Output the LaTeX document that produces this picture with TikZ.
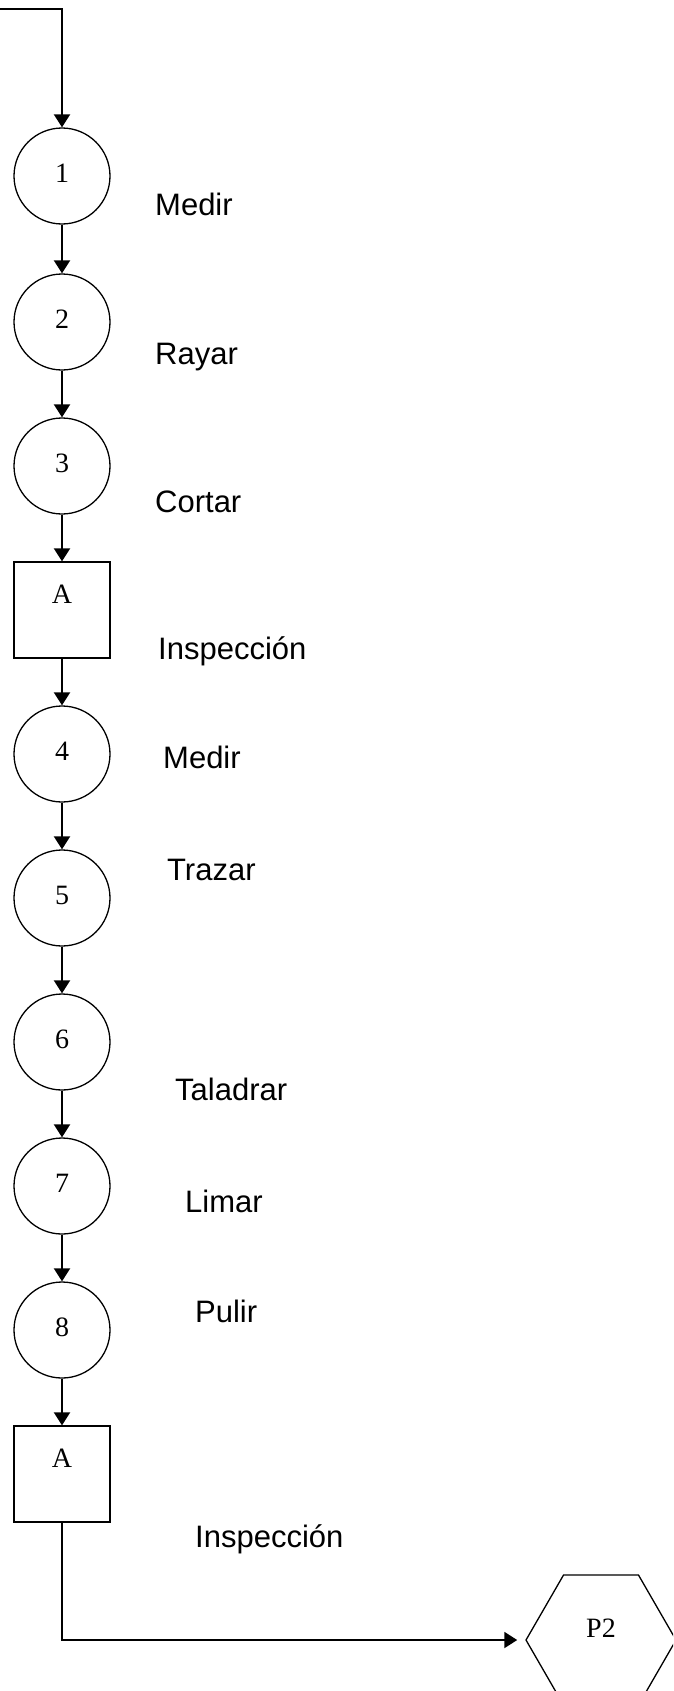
\documentclass[tikz,border=0pt]{standalone}
\usepackage{fontspec}
\setmainfont{Liberation Serif}
\setsansfont{Liberation Sans}
\usetikzlibrary{arrows.meta,shapes.geometric}

\begin{document}
\begin{tikzpicture}[x=1pt, y=-1pt]
    \clip (0,0) rectangle (673,1691);
    \useasboundingbox (0,0) rectangle (673,1691);
    \begin{scope}
        \tikzstyle{every node}=[fill=white, draw=black, line width=1.3pt, text=black, inner sep=0pt, font=\fontsize{28pt}{30pt}\selectfont]
        \tikzstyle{op}=[circle, minimum size=96pt, text height=19pt, text depth=7pt]
        \tikzstyle{insp}=[rectangle, minimum width=96pt, minimum height=96pt, text height=20pt, text depth=34pt]
        \node[op] (1) at (62,176) {1};
        \node[op] (2) at (62,322) {2};
        \node[op] (3) at (62,466) {3};
        \node[insp] (A1) at (62,610) {A};
        \node[op] (4) at (62,754) {4};
        \node[op] (5) at (62,898) {5};
        \node[op] (6) at (62,1042) {6};
        \node[op] (7) at (62,1186) {7};
        \node[op] (8) at (62,1330) {8};
        \node[insp] (A2) at (62,1474) {A};
        \node[regular polygon, regular polygon sides=6, minimum size=150pt, text height=20pt, text depth=26pt] (P2) at (601,1640) {P2};
    \end{scope}
    \begin{scope}
        \tikzstyle{every node}=[anchor=base west, inner sep=0pt, font=\sffamily\fontsize{31pt}{33pt}\selectfont]
        \node (medir) at (155,215) {Medir};
        \node (rayar) at (155,364) {Rayar};
        \node (cortar) at (155,512) {Cortar};
        \node (insp1) at (158,659) {Inspección};
        \node (medir2) at (163,768) {Medir};
        \node (trazar) at (167,880) {Trazar};
        \node (taladrar) at (175,1100) {Taladrar};
        \node (limar) at (185,1212) {Limar};
        \node (pulir) at (195,1322) {Pulir};
        \node (insp2) at (195,1547) {Inspección};
    \end{scope}
    \begin{scope}
        \tikzstyle{flow}=[line width=2pt, -{Triangle[length=13pt, width=16pt]}]
        \tikzstyle{every edge}=[draw, flow]
        \coordinate (start) at (0,9);
        \draw[flow] (start) -| (1);
        \path
        (1) edge (2)
        (2) edge (3)
        (3) edge (A1)
        (A1) edge (4)
        (4) edge (5)
        (5) edge (6)
        (6) edge (7)
        (7) edge (8)
        (8) edge (A2);
        \draw[flow, shorten >=8pt] (A2) |- (P2);
    \end{scope}
\end{tikzpicture}
\end{document}
